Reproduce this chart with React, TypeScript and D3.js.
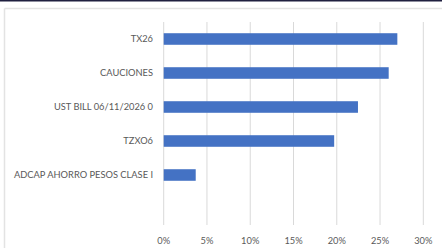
import { useEffect, useRef } from "react";
import * as d3 from "d3";

// categories from top to bottom (last one is an empty slot in the original)
const categories = ["TX26", "CAUCIONES", "UST BILL 06/11/2026 0", "TZXO6", "ADCAP AHORRO PESOS CLASE I", ""];
const values = [0.27, 0.26, 0.2245, 0.197, 0.037, 0];
const ticks = [0, 0.05, 0.1, 0.15, 0.2, 0.25, 0.3];

function App() {
  const ref = useRef<SVGSVGElement>(null);

  useEffect(() => {
    const svg = d3.select(ref.current);
    svg.selectAll("*").remove();

    const width = 442,
      height = 248;
    const margin = { top: 22, right: 18.7, bottom: 22, left: 163.7 };

    // frame
    svg.append("rect").attr("x", 0).attr("y", 0).attr("width", width).attr("height", 1.5).attr("fill", "#1f1f3f");
    svg.append("line").attr("x1", 4.5).attr("x2", width).attr("y1", 8.5).attr("y2", 8.5).attr("stroke", "#e3e3e3").attr("stroke-width", 1.5);
    svg.append("line").attr("x1", 4.5).attr("x2", 4.5).attr("y1", 8.5).attr("y2", height).attr("stroke", "#e3e3e3").attr("stroke-width", 1.5);

    const x = d3.scaleLinear().domain([0, 0.3]).range([margin.left, width - margin.right]);
    const y = d3
      .scaleBand()
      .domain(categories)
      .range([margin.top, 226])
      .paddingInner(0.66)
      .paddingOuter(0.33);

    // gridlines
    svg
      .append("g")
      .selectAll("line")
      .data(ticks)
      .join("line")
      .attr("x1", (d) => x(d))
      .attr("x2", (d) => x(d))
      .attr("y1", margin.top)
      .attr("y2", 225)
      .attr("stroke", "#d9d9d9")
      .attr("stroke-width", 1);

    // bars
    svg
      .append("g")
      .selectAll("rect")
      .data(values)
      .join("rect")
      .attr("x", x(0))
      .attr("y", (d, i) => y(categories[i])!)
      .attr("width", (d) => x(d) - x(0))
      .attr("height", y.bandwidth())
      .attr("fill", "#4472c4");

    // category labels
    svg
      .append("g")
      .selectAll("text")
      .data(categories)
      .join("text")
      .attr("x", 153)
      .attr("y", (d) => y(d)! + y.bandwidth() / 2)
      .attr("dy", "0.35em")
      .attr("text-anchor", "end")
      .attr("fill", "#595959")
      .style("font-family", "Lato, 'Open Sans', sans-serif")
      .style("font-size", "9.3px")
      .text((d) => d);

    // x tick labels
    svg
      .append("g")
      .selectAll("text")
      .data(ticks)
      .join("text")
      .attr("x", (d) => x(d))
      .attr("y", 241)
      .attr("dy", "0.35em")
      .attr("text-anchor", "middle")
      .attr("fill", "#595959")
      .style("font-family", "Lato, 'Open Sans', sans-serif")
      .style("font-size", "9.3px")
      .text((d) => d3.format(".0%")(d));
  }, []);

  return (
    <svg
      ref={ref}
      width={442}
      height={248}
      style={{ position: "absolute", left: 0, top: 0, background: "#fff" }}
    ></svg>
  );
}

export default App;
